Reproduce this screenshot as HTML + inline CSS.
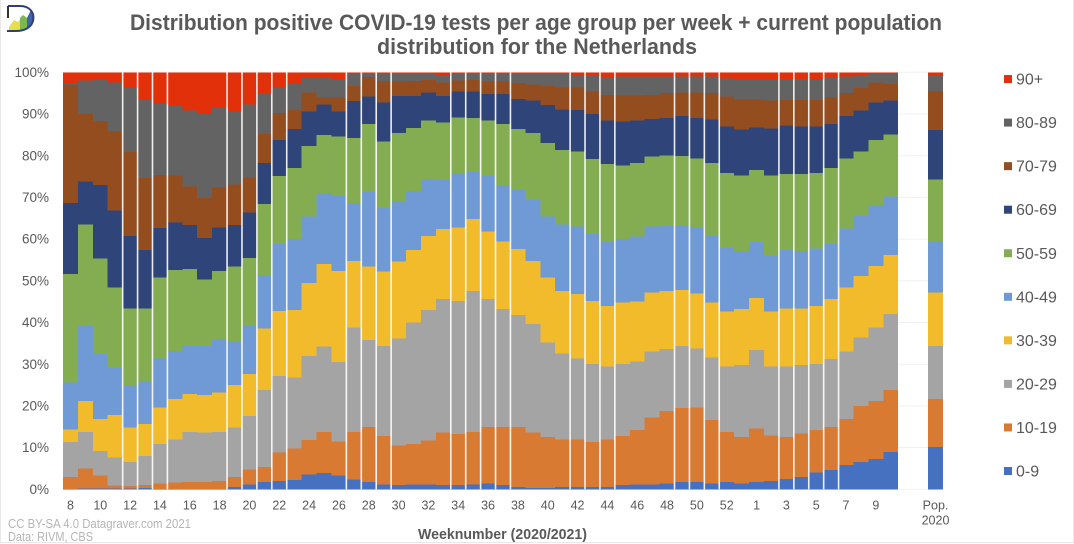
<!DOCTYPE html>
<html lang="en">
<head>
<meta charset="utf-8">
<title>Distribution positive COVID-19 tests per age group</title>
<style>
  html, body { margin: 0; padding: 0; background: #fff; }
  body { width: 1074px; height: 544px; overflow: hidden; }
  svg { display: block; font-family: "Liberation Sans", sans-serif; }
</style>
</head>
<body>
<svg id="chart" xmlns="http://www.w3.org/2000/svg" width="1074" height="544" viewBox="0 0 1074 544">
  <rect x="0" y="0" width="1074" height="544" fill="#ffffff"/>
  <path d="M0.5 0V542.5H1073.5V0" fill="none" stroke="#e8e8e8" stroke-width="1"/>
  <g>
    <path d="M9 27 L14 20 L18 22 L23 15 L27 18 L31 10 C33 18 32 25 25 29 C20 31 14 31 9 31 Z" fill="#e8de4a"/>
    <path d="M20 31 L20 18 L23 15 L27 18 L27 28 Z" fill="#7db84e"/>
    <path d="M27 29 L27 18 L31 10 C34 18 33 25 27 29 Z" fill="#3f63ad"/>
    <path d="M8 6 H20 C30 6 35 13 33 21 C31 28 24 31 16 31 H7" fill="none" stroke="#2f3f7a" stroke-width="2"/>
    <path d="M8 6 V18" fill="none" stroke="#333" stroke-width="2"/>
  </g>
  <text x="130" y="30" textLength="812" lengthAdjust="spacingAndGlyphs" font-size="22" font-weight="700" fill="#595959">Distribution positive COVID-19 tests per age group per week + current population</text>
  <text x="377" y="54" textLength="320" lengthAdjust="spacingAndGlyphs" font-size="22" font-weight="700" fill="#595959">distribution for the Netherlands</text>
  <g id="gridlines"></g>
  <g id="bars"></g>
  <g id="separators"></g>
  <g id="y-axis"></g>
  <g id="x-axis"></g>
  <g id="legend"></g>
  <text x="418" y="539" textLength="169" lengthAdjust="spacingAndGlyphs" font-size="14.5" font-weight="700" fill="#595959">Weeknumber (2020/2021)</text>
  <text x="8" y="528" textLength="183" lengthAdjust="spacingAndGlyphs" font-size="12.5" fill="#b5b5b5">CC BY-SA 4.0 Datagraver.com 2021</text>
  <text x="8" y="541" textLength="85" lengthAdjust="spacingAndGlyphs" font-size="12.5" fill="#b5b5b5">Data: RIVM, CBS</text>
</svg>
<script>
// Category axis: 56 weeks, two blank slots, and the population reference bar.
const weeks = ["8","9","10","11","12","13","14","15","16","17","18","19","20","21","22","23","24","25","26","27","28","29","30","31","32","33","34","35","36","37","38","39","40","41","42","43","44","45","46","47","48","49","50","51","52","53","1","2","3","4","5","6","7","8","9","10","","","Pop."];
const yTicks = [0,10,20,30,40,50,60,70,80,90,100];
const ageGroups = ["0-9","10-19","20-29","30-39","40-49","50-59","60-69","70-79","80-89","90+"];
const groupColors = ["#4670c0","#d97a33","#a4a4a4","#f1bb2c","#6f9ad5","#84ad52","#2f4579","#934d1f","#636363","#e2310a"];

// Cumulative percent at the top of each age band, per week (last value = Pop. 2020).
const top0to9 = [.05,.15,.2,.2,.2,.3,.1,.1,.1,.1,.1,.5,1.2,1.8,2,2.2,3.6,3.9,3.3,2.4,1.8,1.2,1,1.2,1.2,1,1,1.2,1.4,1,.6,.3,.3,.5,.5,.5,.5,1,1.2,1.2,1.4,1.7,1.8,1.4,1.8,1.4,1.7,2,2.5,3,4,4.6,5.8,6.6,7.3,9,null,null,10.2];
const top10to19 = [2.9,5,3.3,.9,.8,1,1.4,1.6,1.8,1.8,2,2.9,4.8,5.4,8.8,9.8,11.8,13.7,11.5,13.8,14.9,12.8,10.5,10.9,11.7,13.6,13.3,13.7,14.9,15,15,13.6,12.6,12,12,11.3,12,12.8,14.2,17.2,18.8,19.5,19.6,16.6,13.8,12.6,14.6,12.9,12.6,13.4,14.2,15,16.9,20,21.2,23.8,null,null,21.7];
const top20to29 = [11.4,13.7,9.2,7.6,6.6,8,10.9,12,13.8,13.6,13.8,14.8,17.6,23.8,27.2,26.8,32,34.2,30.5,38.8,35.8,34.4,36.2,40,43,45.6,45.2,47.5,45.6,43.2,41.8,39.6,35.2,32.6,31.4,30,29.4,30,30.6,33,33.6,34.4,33.8,31.6,29.4,29.8,33.4,29.4,29.4,29.8,30,31.3,33,36.4,38.8,42,null,null,34.4];
const top30to39 = [14.4,21.2,16.8,17.8,14.8,15.6,19.6,21.7,22.8,22.6,23.2,25,27.6,38.6,42.8,43,49.5,54,52.4,54.8,53.4,52.2,54.6,57.4,60.8,62.4,62.8,64.8,61.8,59.4,57.6,54.8,50.8,47.5,46.8,45.2,44,44.8,45,47.2,47.5,47.8,47,44.8,42.6,43.2,45.9,42.6,43.4,43.4,44,45.6,48.4,51.2,53.6,56.2,null,null,47.2];
const top40to49 = [25.6,39.2,32.6,29.2,25,26,31.4,33.2,34.4,34.4,36,35.4,39.2,51.4,59,60,65.4,71,70.3,68.6,71.4,67.5,69.1,71.5,74.4,74.3,75.8,76.2,75.2,73,71.8,69.4,65.4,63.5,63,61.2,59.4,60,60.6,63,63.2,63.4,62.7,60.8,58,57.2,59.4,56,57.4,57.2,57.8,59,62.6,65.6,68,70.2,null,null,59.5];
const top50to59 = [51.6,63.5,55.3,48.4,43.4,43.4,50.8,52.6,52.8,50.3,52.3,53.4,55.5,68.4,75.1,77.1,82.3,85,84.6,84.3,87.6,83.4,85.4,86.7,88.4,88,89.2,89,88.4,87.6,86.4,85.4,83,81.4,81,79.2,78,77.6,78.2,79.8,80,79.9,79.3,78.2,75.9,75.2,76.6,75.2,75.6,75.6,75.9,77.1,79.3,81,83.8,85.1,null,null,74.3];
const top60to69 = [68.7,73.8,73,66.8,60.8,57.4,62.7,64,63.4,60.3,62.8,63.4,66.4,78.2,83.8,86.4,90.6,92.3,90.6,93.1,94.2,92.8,94.3,94.3,95.1,94.3,95.4,95.4,94.8,94.8,93.6,93.2,92.2,91.1,91,90,88.4,88.2,88.4,88.8,89,89.5,89,88.7,87,86.3,86.8,86.5,87.2,87,87,87.6,89.5,90.8,92.8,93.2,null,null,86.2];
const top70to79 = [97,90,88.3,85.8,80.9,74.6,75.4,75.2,72.6,69.8,72.4,73.1,74.6,85.2,90.2,91,95.2,94,94,96.7,98.9,97.8,97.8,97.9,98.1,97.5,98,98.2,97.8,97.8,97.4,97.1,96.7,96.4,96.3,95.4,94.6,94.4,94.4,94.6,95,95.2,95.2,95,94.2,93.5,93.5,93.2,93.4,93.4,93.4,94,95,96.2,97.5,97.2,null,null,95.5];
const top80to89 = [97.2,98,98.2,97.6,96.2,93.4,92.4,92,90.8,90,91.4,90.6,92.3,94.8,96.2,97.2,98.7,98.7,98.3,99.6,99.8,99.7,99.7,99.7,99.7,99.2,99.7,99.7,99.7,99.7,99.7,99.7,99.7,99.7,99.3,99.3,98.8,99,99,99,99,99,98.95,99,98.55,98.4,98.4,98.15,98.4,98.4,98.15,98.8,99,99.35,99.6,99.6,null,null,99.2];
const top90plus = [100,100,100,100,100,100,100,100,100,100,100,100,100,100,100,100,100,100,100,100,100,100,100,100,100,100,100,100,100,100,100,100,100,100,100,100,100,100,100,100,100,100,100,100,100,100,100,100,100,100,100,100,100,100,100,100,null,null,100];

// Week boundaries where the reference shows a thin white seam (category positions).
const seamBoundaries = [4,5,6,7,11,12,13,14,15,19,20,21,22,26,27,28,29,30,34,35,36,37,41,42,43,44,48,49,50,51,52];

const bandTops = [top0to9, top10to19, top20to29, top30to39, top40to49, top50to59, top60to69, top70to79, top80to89, top90plus];

const SVG_NS = "http://www.w3.org/2000/svg";
const plot = { left: 63, bandWidth: 14.915, bottom: 489.3, pxPerPercent: 4.17 };
function xScale(i) { return plot.left + i * plot.bandWidth; }
function yScale(p) { return plot.bottom - p * plot.pxPerPercent; }
function svgEl(tag, attrs, parent, text) {
  const el = document.createElementNS(SVG_NS, tag);
  for (const k in attrs) el.setAttribute(k, attrs[k]);
  if (text !== undefined) el.textContent = text;
  parent.appendChild(el);
  return el;
}

const gridG = document.getElementById("gridlines");
const barsG = document.getElementById("bars");
const sepG = document.getElementById("separators");
const yG = document.getElementById("y-axis");
const xG = document.getElementById("x-axis");
const legendG = document.getElementById("legend");













yTicks.forEach(function (t) {
  const line = svgEl("line", { x1: xScale(0), x2: xScale(weeks.length), y1: yScale(t), y2: yScale(t), stroke: "#f1f1f1", "stroke-width": 1 }, gridG);
  
  
  const label = svgEl("text", { x: 49, y: yScale(t) + 4.6, "text-anchor": "end", "font-size": 13.5, fill: "#595959" }, yG, t + "%");
  
  
});

bandTops.forEach(function (tops, g) {
  tops.forEach(function (top, i) {
    if (top === null) return;
    const lower = g === 0 ? 0 : bandTops[g - 1][i];
    const rect = svgEl("rect", {
      x: xScale(i),
      y: yScale(top),
      width: plot.bandWidth,
      height: yScale(lower) - yScale(top),
      fill: groupColors[g],
      "shape-rendering": "crispEdges"
    }, barsG);
    
    
  });
});

seamBoundaries.forEach(function (b) {
  const seam = svgEl("line", { x1: xScale(b), x2: xScale(b), y1: yScale(100), y2: yScale(0), stroke: "#ffffff", "stroke-opacity": 0.9, "stroke-width": 1.6 }, sepG);
  
  
});

weeks.forEach(function (w, i) {
  if (w === "" || i % 2 !== 0 || i > 54) return;
  const label = svgEl("text", { x: xScale(i) + plot.bandWidth / 2, y: 509.5, "text-anchor": "middle", "font-size": 12.5, fill: "#595959" }, xG, w);
  
  
});
const popX = xScale(weeks.length - 1) + plot.bandWidth / 2;
const popLabel = svgEl("text", { x: popX, y: 509.5, "text-anchor": "middle", "font-size": 12.5, fill: "#595959" }, xG, weeks[weeks.length - 1]);


const popYear = svgEl("text", { x: popX, y: 524.5, "text-anchor": "middle", "font-size": 12.5, fill: "#595959" }, xG, "2020");



ageGroups.forEach(function (name, g) {
  const cy = 471 - g * 43.55;
  const swatch = svgEl("rect", { x: 1004, y: cy - 4, width: 8, height: 8, fill: groupColors[g] }, legendG);
  
  
  const label = svgEl("text", { x: 1016, y: cy + 5.5, "font-size": 16, fill: "#595959" }, legendG, name);
  
  
});
</script>
</body>
</html>
